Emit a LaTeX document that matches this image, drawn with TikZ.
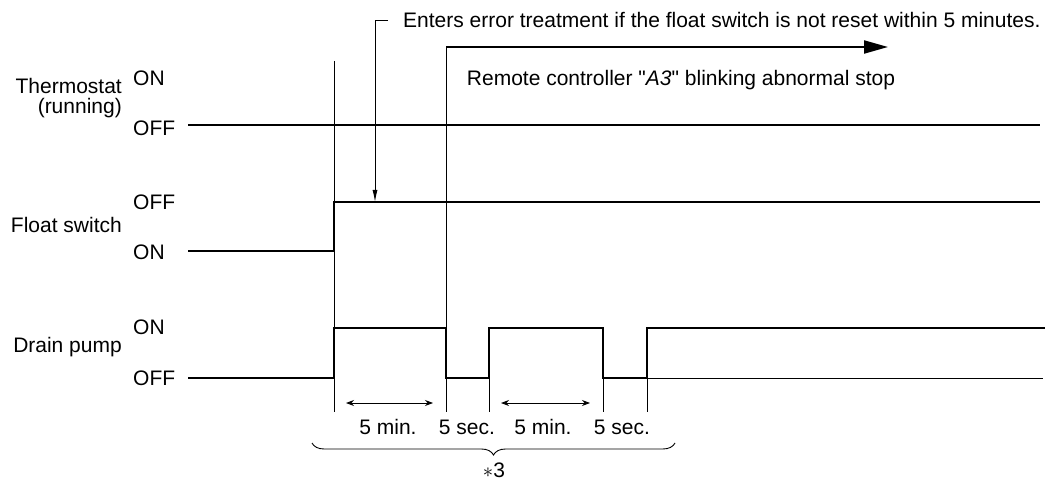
\documentclass[tikz,border=0pt]{standalone}
\usepackage{fontspec}
\setmainfont{Liberation Sans}[Ligatures=TeXOff]
\usetikzlibrary{arrows.meta,decorations.pathreplacing}
\begin{document}
\begin{tikzpicture}[x=1pt,y=-1pt,font=\fontsize{21}{19}\selectfont,
  sig/.style={line width=2.6pt},
  guide/.style={line width=0.9pt},
  dur/.style={guide,{Stealth[length=8pt,width=6pt]}-{Stealth[length=8pt,width=6pt]},shorten <=12pt,shorten >=13pt},
  lbl/.style={inner sep=0pt}]
\useasboundingbox (0,0) rectangle (1058,481);
% time marks
\coordinate (g1) at (334,403); \coordinate (g2) at (446,403);
\coordinate (g3) at (489,403); \coordinate (g4) at (603,403);
\coordinate (g5) at (647,403);
% row labels
\node[lbl,anchor=base east] (thermo) at (122,94) {Thermostat};
\node[lbl,anchor=base east] (running) at (122,114) {(running)};
\node[lbl,anchor=east] (float) at (122,225) {Float switch};
\node[lbl,anchor=east] (drain) at (122,347) {Drain pump};
\node[lbl,anchor=west] (thon) at (133,78) {ON};
\node[lbl,anchor=west] (thoff) at (133,128) {OFF};
\node[lbl,anchor=west] (floff) at (133,202) {OFF};
\node[lbl,anchor=west] (flon) at (133,252) {ON};
\node[lbl,anchor=west] (dron) at (133,327) {ON};
\node[lbl,anchor=west] (droff) at (133,378) {OFF};
% signals
\draw[sig] (188,125) -- (1040,125);
\draw[sig] (188,251) -- (334,251) -- (334,202) -- (1040,202);
\draw[sig] (188,378) -- (334,378) -- (334,328) -- (446,328) -- (446,378) -- (489,378) -- (489,328)
  -- (603,328) -- (603,378) -- (647,378) -- (647,328) -- (1045,328);
\draw[guide] (647,378) -- (1043,378);
% guides
\draw[guide] (334,61) -- (334,412);
\draw[guide] (446,47) -- (446,412);
\draw[guide] (489,378) -- (489,412);
\draw[guide] (603,378) -- (603,412);
\draw[guide] (647,378) -- (647,412);
% error treatment
\node[lbl,anchor=west] (err) at (403,20) {Enters error treatment if the float switch is not reset within 5 minutes.};
\coordinate (errhit) at (375,202);
\draw[guide,shorten <=15pt,-{Latex[length=12pt,width=5pt]}] (err.west) -| (errhit);
\coordinate (stop) at (446,47); \coordinate (stopend) at (888,47);
\draw[line width=2pt,-{Triangle[length=24pt,width=13pt]}] (stop) -- (stopend);
\node[lbl] (remote) at (681,80) {Remote controller "{\itshape A3}" blinking abnormal stop};
% durations
\draw[dur] (g1) -- (g2);
\draw[dur] (g3) -- (g4);
\node[lbl] (m1) at (388,427) {5 min.};
\node[lbl] (s1) at (467,427) {5 sec.};
\node[lbl] (m2) at (543,427) {5 min.};
\node[lbl] (s2) at (622,427) {5 sec.};
\coordinate (bl) at (312,443); \coordinate (br) at (675,443);
\draw[guide,decorate,decoration={brace,amplitude=12pt,mirror}] (bl) -- (br);
\node[lbl] (note) at (494,470) {$\ast$3};
\end{tikzpicture}
\end{document}
